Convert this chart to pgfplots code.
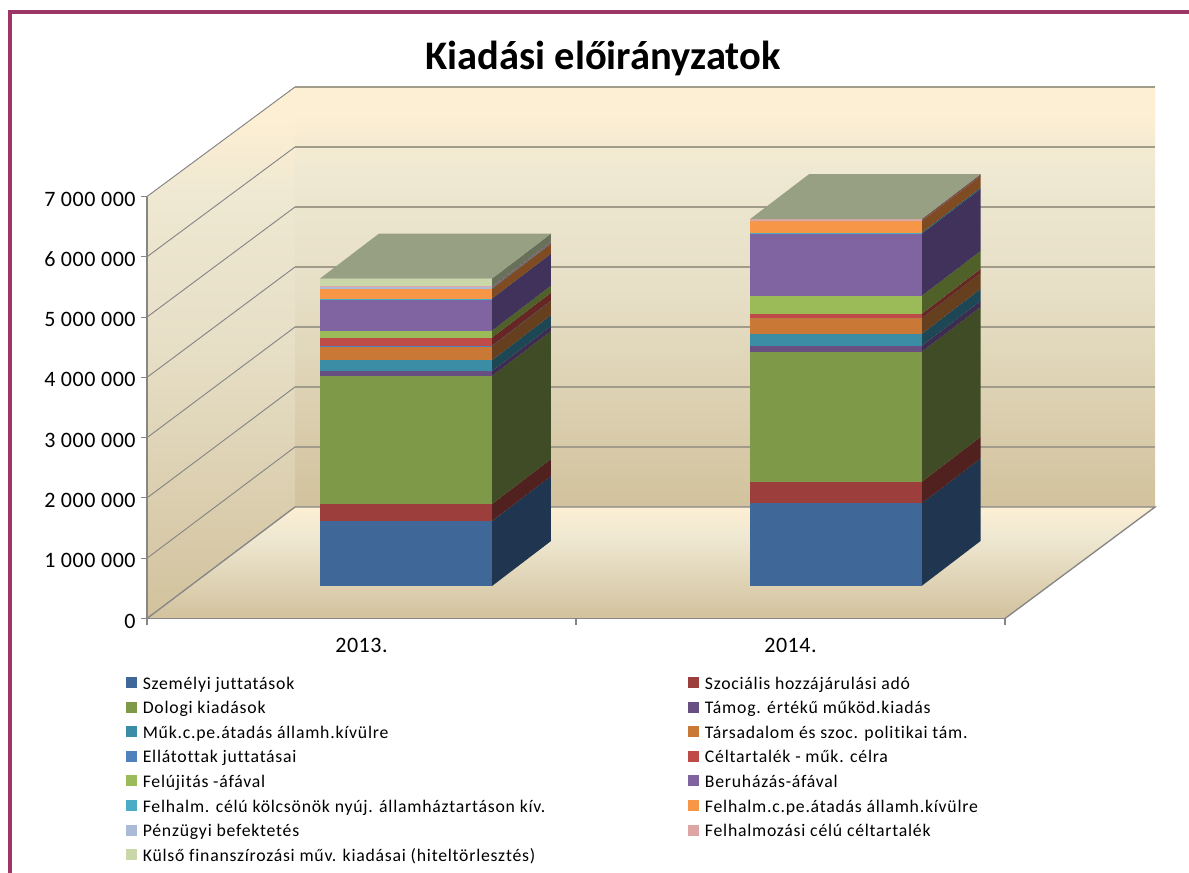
\documentclass[border=0pt]{standalone}
\usepackage{fontspec}
\setmainfont{Carlito}
\newfontfamily\legfont[LetterSpace=4.3,Ligatures=NoCommon]{Carlito}
\newfontfamily\tickfont[LetterSpace=2.5]{Carlito}
\usepackage{pgfplots}
\pgfplotsset{compat=1.18}
\definecolor{cA}{HTML}{3F6899}\definecolor{sA}{HTML}{1F3550}
\definecolor{cB}{HTML}{9C3E3C}\definecolor{sB}{HTML}{512120}
\definecolor{cC}{HTML}{7E9A48}\definecolor{sC}{HTML}{404C25}
\definecolor{cD}{HTML}{674F82}\definecolor{sD}{HTML}{3C2D50}
\definecolor{cE}{HTML}{3B8CA5}\definecolor{sE}{HTML}{1D4754}
\definecolor{cF}{HTML}{C97935}\definecolor{sF}{HTML}{663F1F}
\definecolor{cG}{HTML}{4F81BD}\definecolor{sG}{HTML}{294361}
\definecolor{cH}{HTML}{BE4B48}\definecolor{sH}{HTML}{652624}
\definecolor{cI}{HTML}{9BBB59}\definecolor{sI}{HTML}{4F6128}
\definecolor{cJ}{HTML}{8064A2}\definecolor{sJ}{HTML}{40325A}
\definecolor{cK}{HTML}{4BACC6}\definecolor{sK}{HTML}{205867}
\definecolor{cL}{HTML}{F79646}\definecolor{sL}{HTML}{7E4B22}
\definecolor{cM}{HTML}{AABAD7}\definecolor{sM}{HTML}{5F6F7F}
\definecolor{cN}{HTML}{DDA5A4}\definecolor{sN}{HTML}{7A5050}
\definecolor{cO}{HTML}{C9D7A9}\definecolor{sO}{HTML}{68705A}
\definecolor{topc}{HTML}{97A082}
\definecolor{frame}{HTML}{9E3567}
\definecolor{axg}{HTML}{868686}
\definecolor{wallT}{HTML}{FDEFD3}\definecolor{wallU}{HTML}{EFE8D2}
\definecolor{wallM}{HTML}{E6DEC5}\definecolor{wallB}{HTML}{D2C29D}
\pgfdeclareverticalshading{wall}{100bp}{color(0bp)=(wallB); color(25bp)=(wallB); color(50bp)=(wallM); color(65bp)=(wallU); color(72bp)=(wallT); color(100bp)=(wallT)}
\pgfdeclareverticalshading{floorsh}{100bp}{color(0bp)=(wallB); color(25bp)=(wallB); color(62bp)=(wallU); color(75bp)=(wallT); color(100bp)=(wallT)}
\newcount\cum
\newcommand\startbar[4]{\global\cum=539000 \gdef\xL{#1}\gdef\xR{#2}\gdef\xB{#3}\gdef\xT{#4}}
\newcommand\seg[3]{%
  \edef\lo{\the\cum}\global\advance\cum by #1\relax\edef\hi{\the\cum}%
  \edef\lob{\the\numexpr\lo+746000\relax}\edef\hib{\the\numexpr\hi+746000\relax}%
  \edef\doit{\noexpand\addplot[fill=#3,draw=none,forget plot] coordinates {(\xR,\lo)(\xB,\lob)(\xB,\hib)(\xR,\hi)};
  \noexpand\addplot[fill=#2,draw=none,forget plot] coordinates {(\xL,\lo)(\xR,\lo)(\xR,\hi)(\xL,\hi)};}\doit}
\newcommand\topface{%
  \edef\hi{\the\cum}\edef\hib{\the\numexpr\hi+746000\relax}%
  \edef\doit{\noexpand\addplot[fill=topc,draw=none,forget plot] coordinates {(\xL,\hi)(\xR,\hi)(\xB,\hib)(\xT,\hib)};}\doit}
\begin{document}
\begin{tikzpicture}
\useasboundingbox (0,0) rectangle (891.75pt,-654.75pt);
\fill[white] (0,0) rectangle (891.75pt,-654.75pt);
\draw[frame,line width=2.6pt] (7.5pt,-654.75pt)--(7.5pt,-8.85pt)--(891.75pt,-8.85pt);
\begin{axis}[
  at={(110.25pt,-463.875pt)},anchor=south west,
  scale only axis,width=643.5pt,height=316.5pt,
  xmin=-0.5,xmax=1.5,ymin=0,ymax=7000000,
  clip=false,axis on top,
  axis lines=left,axis line style={-,axg,line width=0.8pt},
  tick style={axg,line width=0.8pt},tick align=outside,major tick length=4.5pt,
  scaled y ticks=false,
  xtick={-0.5,0.5,1.5},xticklabels={,,},
  extra x ticks={0,1},extra x tick labels={2013.,2014.},
  extra x tick style={major tick length=0pt,xticklabel style={yshift=-11.4pt}},
  ytick={0,1000000,2000000,3000000,4000000,5000000,6000000,7000000},
  yticklabels={0,1 000 000,2 000 000,3 000 000,4 000 000,5 000 000,6 000 000,7 000 000},
  ticklabel style={font=\tickfont\fontsize{16.5}{18}\selectfont,text=black},
  yticklabel style={yshift=-1.9pt,xshift=-0.5pt},
  title={Kiadási előirányzatok},
  title style={at={(0.5315,1.3085)},anchor=center,font=\fontsize{30.4}{33}\bfseries\selectfont},
  legend columns=2,
  legend cell align=left,
  legend image code/.code={\fill[#1,draw=none] (0pt,-3pt) rectangle (8.25pt,5.25pt);},
  legend style={at={(axis cs:-0.55,-881000)},anchor=north west,draw=none,fill=none,
    font=\legfont\fontsize{13.3}{15}\selectfont,inner sep=0pt,row sep=0pt,
    nodes={inner sep=0pt,text height=13pt,text depth=5.43pt},
    /tikz/every odd column/.append style={column sep=4.5pt},
    /tikz/every even column/.append style={column sep=107pt}},
]
% walls
\fill[shading=wall] (axis cs:-0.5,0)--(axis cs:-0.155,1849600)--(axis cs:-0.155,8816600)--(axis cs:-0.5,7000000)--cycle;
\fill[shading=wall] (axis cs:-0.155,1849600) rectangle (axis cs:1.8497,8816600);
\fill[shading=floorsh] (axis cs:-0.5,0)--(axis cs:1.5,0)--(axis cs:1.8497,1849600)--(axis cs:-0.155,1849600)--cycle;
% gridlines
\foreach \a/\b in {1000000/2844900,2000000/3840200,3000000/4835500,4000000/5830700,5000000/6826000,6000000/7821300,7000000/8816600}{
  \edef\tmp{\noexpand\draw[axg,line width=0.7pt] (axis cs:-0.5,\a)--(axis cs:-0.155,\b);
  \noexpand\draw[black!30!wallM,line width=1.1pt] (axis cs:-0.155,\b)--(axis cs:1.8497,\b);}\tmp}
\draw[axg,line width=1pt] (axis cs:-0.5,0)--(axis cs:-0.155,1849600)--(axis cs:1.8497,1849600)--(axis cs:1.5,0);
% 2013
\startbar{-0.0967}{0.3042}{0.4417}{0.0408}
\seg{1078000}{cA}{sA}\seg{282000}{cB}{sB}\seg{2123000}{cC}{sC}\seg{83000}{cD}{sD}
\seg{182000}{cE}{sE}\seg{232000}{cF}{sF}\seg{7000}{cG}{sG}\seg{133000}{cH}{sH}
\seg{116000}{cI}{sI}\seg{531000}{cJ}{sJ}\seg{1000}{cK}{sK}\seg{166000}{cL}{sL}
\seg{25000}{cM}{sM}\seg{13000}{cN}{sN}\seg{128000}{cO}{sO}\topface
% 2014
\startbar{0.9056}{1.3054}{1.4429}{1.0431}
\seg{1369000}{cA}{sA}\seg{357000}{cB}{sB}\seg{2156000}{cC}{sC}\seg{100000}{cD}{sD}
\seg{199000}{cE}{sE}\seg{265000}{cF}{sF}\seg{0}{cG}{sG}\seg{66000}{cH}{sH}
\seg{299000}{cI}{sI}\seg{1028000}{cJ}{sJ}\seg{22000}{cK}{sK}\seg{191000}{cL}{sL}
\seg{0}{cM}{sM}\seg{33000}{cN}{sN}\seg{0}{cO}{sO}\topface
% legend
\addlegendimage{fill=cA}\addlegendentry{Személyi juttatások}
\addlegendimage{fill=cB}\addlegendentry{Szociális hozzájárulási adó}
\addlegendimage{fill=cC}\addlegendentry{Dologi kiadások}
\addlegendimage{fill=cD}\addlegendentry{Támog. értékű működ.kiadás}
\addlegendimage{fill=cE}\addlegendentry{Műk.c.pe.átadás államh.kívülre}
\addlegendimage{fill=cF}\addlegendentry{Társadalom és szoc. politikai tám.}
\addlegendimage{fill=cG}\addlegendentry{Ellátottak juttatásai}
\addlegendimage{fill=cH}\addlegendentry{Céltartalék - műk. célra}
\addlegendimage{fill=cI}\addlegendentry{Felújitás -áfával}
\addlegendimage{fill=cJ}\addlegendentry{Beruházás-áfával}
\addlegendimage{fill=cK}\addlegendentry{Felhalm. célú kölcsönök nyúj. államháztartáson kív.}
\addlegendimage{fill=cL}\addlegendentry{Felhalm.c.pe.átadás államh.kívülre}
\addlegendimage{fill=cM}\addlegendentry{Pénzügyi befektetés}
\addlegendimage{fill=cN}\addlegendentry{Felhalmozási célú céltartalék}
\addlegendimage{fill=cO}\addlegendentry{Külső finanszírozási műv. kiadásai (hiteltörlesztés)}
\end{axis}
\end{tikzpicture}
\end{document}
